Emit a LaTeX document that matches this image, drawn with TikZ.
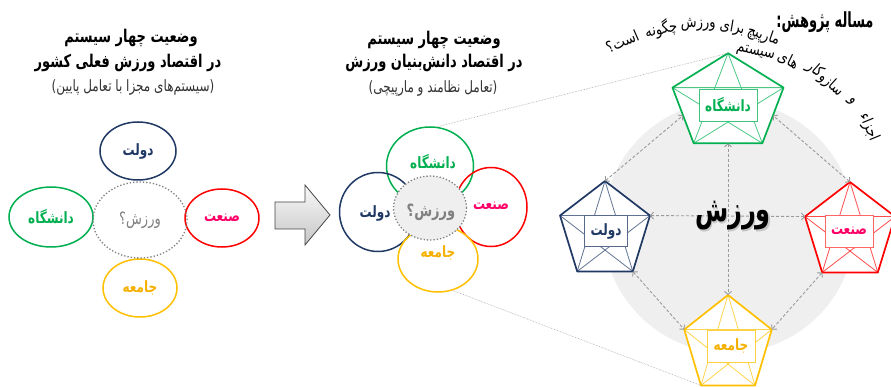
\documentclass[tikz,border=0pt]{standalone}
\usepackage{fontspec}
\usepackage{graphicx}
\usetikzlibrary{shapes.geometric,arrows.meta,calc}
\TeXXeTstate=1
\newfontfamily\fa[Script=Arabic]{DejaVu Sans}
\newcommand{\vst}[2]{\scalebox{1}[#1]{#2}}
\definecolor{cnavy}{HTML}{1F3864}
\definecolor{cgreen}{HTML}{00B050}
\definecolor{cred}{HTML}{FF0000}
\definecolor{cpink}{HTML}{FF0066}
\definecolor{cgold}{HTML}{FFC000}
\definecolor{cgoldtxt}{HTML}{F5B000}
\definecolor{ctxtgray}{HTML}{808080}
\definecolor{cbg}{HTML}{EFEFEF}
\definecolor{clink}{HTML}{9A9A9A}
\newcommand{\mypent}[6]{%
  \coordinate (#1) at (#2,-#3);
  \foreach \k/\ang in {1/90,2/162,3/234,4/306,5/18}{%
    \coordinate (#1-\k) at ($(#1)+({#4*cos(\ang)},{#5*sin(\ang)})$);}
  \fill[white] (#1-1)--(#1-2)--(#1-3)--(#1-4)--(#1-5)--cycle;
  \draw[#6!70!white, line width=0.8pt, line join=round] (#1-1)--(#1-3)--(#1-5)--(#1-2)--(#1-4)--cycle;
  \draw[#6, line width=1.7pt, line join=round] (#1-1)--(#1-2)--(#1-3)--(#1-4)--(#1-5)--cycle;
}
\begin{document}
\begin{tikzpicture}[x=1pt,y=1pt,
  lbl/.style={inner sep=0pt, font=\fa\bfseries\fontsize{12}{14}\selectfont},
  ring/.style={draw, ellipse, line width=1.5pt, inner sep=0pt},
  ttl/.style={inner sep=0pt, font=\fa\bfseries\fontsize{13}{15}\selectfont},
  subttl/.style={inner sep=0pt, font=\fa\fontsize{12}{14}\selectfont, text=black!80},
  link/.style={draw=clink, line width=0.9pt, dash pattern=on 3pt off 2pt,
     {Straight Barb[length=3pt,width=7pt]}-{Straight Barb[length=3pt,width=7pt]}},
  zoomline/.style={draw=gray!70, line width=0.6pt, densely dotted},
  pbox/.style={draw, fill=white, line width=0.8pt, inner sep=0pt, minimum height=32pt,
     font=\fa\bfseries\fontsize{12}{14}\selectfont},
  arcw/.style={inner sep=0pt, font=\fa\fontsize{13}{15}\selectfont}
]
\useasboundingbox (0,0) rectangle (891,-387);
\fill[white] (0,0) rectangle (891,-387);

% ---------------- left part ----------------
\node[ttl] (lt1) at (131,-38) {\vst{1.35}{\beginR وضعیت چهار سیستم\endR}};
\node[ttl] (lt2) at (128,-63) {\vst{1.35}{\beginR در اقتصاد ورزش فعلی کشور\endR}};
\node[subttl] (lt3) at (133,-87) {\vst{1.3}{\beginR(سیستم‌های مجزا با تعامل پایین)\endR}};

\node[ring, draw=cnavy, minimum width=76pt, minimum height=58pt] (ld) at (138,-151) {};
\node[ring, draw=cgreen, minimum width=84pt, minimum height=60pt] (lg) at (51,-217) {};
\node[ring, draw=cred, minimum width=74pt, minimum height=58pt] (lr) at (222,-218) {};
\node[ring, draw=cgold, minimum width=74pt, minimum height=58pt] (lj) at (140,-288) {};
\node[draw=ctxtgray, ellipse, line width=1.3pt, dotted, minimum width=94pt, minimum height=76pt] (lc) at (140,-220) {};

\node[lbl, text=cnavy] (ldt) at (138,-151) {\vst{1.3}{\beginR دولت\endR}};
\node[lbl, text=cgreen] (lgt) at (51,-217) {\vst{1.3}{\beginR دانشگاه\endR}};
\node[lbl, text=cpink] (lrt) at (222,-218) {\vst{1.3}{\beginR صنعت\endR}};
\node[lbl, text=cgoldtxt] (ljt) at (140,-288) {\vst{1.3}{\beginR جامعه\endR}};
\node[inner sep=0pt, font=\fa\fontsize{13}{15}\selectfont, text=ctxtgray] (lct) at (140,-220) {\vst{1.3}{\beginR ورزش؟\endR}};

% ---------------- block arrow ----------------
\draw[draw=gray!55!black, line width=0.8pt, top color=gray!5, bottom color=gray!45]
  (275,-202) -- (305,-202) -- (305,-185) -- (330,-215) -- (305,-245) -- (305,-229) -- (275,-229) -- cycle;

% ---------------- middle part ----------------
\node[ttl] (mt1) at (434,-40) {\vst{1.35}{\beginR وضعیت چهار سیستم\endR}};
\node[ttl] (mt2) at (434,-63) {\vst{1.35}{\beginR در اقتصاد دانش‌بنیان ورزش\endR}};
\node[subttl] (mt3) at (433,-88) {\vst{1.3}{\beginR(تعامل نظامند و مارپیچی)\endR}};

\node[ring, draw=cgreen, minimum width=87pt, minimum height=78pt] (mg) at (430,-166) {};
\node[ring, draw=cnavy, minimum width=77pt, minimum height=79pt] (md) at (378,-212) {};
\node[ring, draw=cred, minimum width=72pt, minimum height=79pt] (mr) at (491,-207) {};
\node[ring, draw=cgold, minimum width=80pt, minimum height=66pt] (mj) at (438,-259) {};
\node[draw=ctxtgray, fill=cbg, ellipse, line width=1.3pt, dotted, minimum width=73pt, minimum height=64pt] (mc) at (430,-208) {};

\node[lbl, text=cgreen] (mgt) at (433,-162) {\vst{1.3}{\beginR دانشگاه\endR}};
\node[lbl, text=cnavy] (mdt) at (375,-213) {\vst{1.3}{\beginR دولت\endR}};
\node[lbl, text=cpink] (mrt) at (491,-206) {\vst{1.3}{\beginR صنعت\endR}};
\node[lbl, text=cgoldtxt] (mjt) at (438,-253) {\vst{1.3}{\beginR جامعه\endR}};
\node[inner sep=0pt, font=\fa\bfseries\fontsize{13}{15}\selectfont, text=ctxtgray] (mct) at (431,-212) {\vst{1.3}{\beginR ورزش؟\endR}};

% ---------------- right part ----------------
\node[circle, fill=cbg, minimum size=252pt, inner sep=0pt] (bg) at (729,-227) {};

\mypent{g}{728}{103}{58.4}{49.8}{cgreen}
\mypent{d}{605}{231}{47.3}{50}{cnavy}
\mypent{r}{850}{232}{47.3}{50}{cred}
\mypent{j}{728}{345}{46}{50}{cgold}

\coordinate (gB) at ($(g-3)!0.5!(g-4)$);
\coordinate (gL) at ($(g-2)!0.5!(g-3)$);
\coordinate (gR) at ($(g-5)!0.5!(g-4)$);
\draw[link] (gB) -- (j-1);
\draw[link] (d-5) -- (r-2);
\draw[link] (d-1) -- (gL);
\draw[link] (r-1) -- (gR);
\draw[link] (d-4) -- (j-2);
\draw[link] (r-3) -- (j-5);

\node[pbox, draw=cgreen!75, text=cgreen, minimum width=58pt] (gbox) at (728,-105) {\vst{1.3}{\beginR دانشگاه\endR}};
\node[pbox, draw=cnavy!75, text=cnavy, minimum width=43pt, minimum height=31pt] (dbox) at (606,-231) {\vst{1.3}{\beginR دولت\endR}};
\node[pbox, draw=cred!60, text=cpink, minimum width=48pt] (rbox) at (849,-231) {\vst{1.3}{\beginR صنعت\endR}};
\node[pbox, draw=cgold!75, text=cgoldtxt, minimum width=48pt] (jbox) at (731,-346) {\vst{1.3}{\beginR جامعه\endR}};

\node[inner sep=0pt, font=\fa\bfseries\fontsize{24}{28}\selectfont, text=black!22] (vzs) at (734.5,-217.5) {\vst{1.45}{\beginR ورزش\endR}};
\node[inner sep=0pt, font=\fa\bfseries\fontsize{24}{28}\selectfont, text=black] (vz) at (733,-216) {\vst{1.45}{\beginR ورزش\endR}};

% zoom lines
\draw[zoomline] (mg.80) -- (g-1);
\draw[zoomline] (mj.-65) -- (j-3);

% question
\node[inner sep=0pt, font=\fa\bfseries\fontsize{13}{15}\selectfont] (q) at (825,-22) {\vst{1.6}{\beginR مساله پژوهش:\endR}};
\coordinate (ca) at (700,-220);
\foreach \w/\ang/\n in {مارپیچ/71/u1, برای/80.5/u2, ورزش/90.5/u3, چگونه/101.5/u4, است؟/113.5/u5}
  \node[arcw, rotate=\ang-90] (\n) at ($(ca)+(\ang:195)$) {\vst{1.2}{\beginR\w\endR}};
\coordinate (cb) at (740,-200);
\foreach \w/\ang/\n in {سیستم/84/v1, های/71/v2, سازوکار/55/v3, و/41.5/v4, اجزاء/29.5/v5}
  \node[arcw, rotate=\ang-97] (\n) at ($(cb)+(\ang:148)$) {\vst{1.2}{\beginR\w\endR}};
\end{tikzpicture}
\end{document}
